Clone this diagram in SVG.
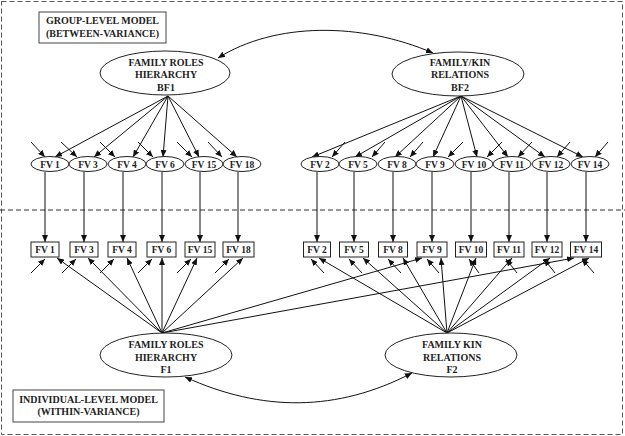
<svg xmlns="http://www.w3.org/2000/svg" width="625" height="436" viewBox="0 0 625 436">
<style>
text{font-family:"Liberation Serif","DejaVu Serif",serif;font-weight:bold;fill:#222;text-anchor:middle}
.big{font-size:10px}
.sm{font-size:9.5px}
.node{fill:#fff;stroke:#222;stroke-width:1}
.lbl{fill:#fff;stroke:#444;stroke-width:1}
.c line,.c path{stroke:#111;stroke-width:1;fill:none;marker-end:url(#ah)}
.c path.both{marker-start:url(#ah)}
</style>
<defs>
<marker id="ah" markerUnits="userSpaceOnUse" markerWidth="8" markerHeight="6" refX="7" refY="3" orient="auto-start-reverse">
<path d="M0,0 L7,3 L0,6 z" fill="#111"/>
</marker>
</defs>
<rect x="1.5" y="1.5" width="621" height="433" fill="none" stroke="#555" stroke-dasharray="5,3"/>
<line x1="0" y1="210" x2="625" y2="210" stroke="#333" stroke-dasharray="5,3"/>

<g id="label-group"><rect class="lbl" x="39" y="12" width="127" height="31"/><text class="big" x="102.5" y="24">GROUP-LEVEL MODEL</text><text class="big" x="102.5" y="36.5">(BETWEEN-VARIANCE)</text></g>
<g id="label-individual"><rect class="lbl" x="13" y="390" width="151" height="32"/><text class="big" x="88.5" y="403">INDIVIDUAL-LEVEL MODEL</text><text class="big" x="88.5" y="415">(WITHIN-VARIANCE)</text></g>

<g class="c" id="connectors">
<path class="both" d="M218,58 C275,22 361,22 433,53"/>
<path class="both" d="M185,377 C262,412 337,412 412,373"/>
<!-- BF1 loadings -->
<line x1="168" y1="96" x2="55" y2="157"/>
<line x1="168" y1="96" x2="94" y2="157"/>
<line x1="168" y1="96" x2="133" y2="157"/>
<line x1="168" y1="96" x2="163" y2="157"/>
<line x1="168" y1="96" x2="199" y2="157"/>
<line x1="168" y1="96" x2="237" y2="157"/>
<!-- BF1 errors -->
<line x1="31" y1="142" x2="45" y2="157"/>
<line x1="61" y1="142" x2="77" y2="157"/>
<line x1="100" y1="142" x2="115" y2="157"/>
<line x1="138" y1="142" x2="153" y2="157"/>
<line x1="177" y1="142" x2="192" y2="157"/>
<line x1="208" y1="142" x2="222" y2="157"/>
<!-- BF2 loadings -->
<line x1="461" y1="96" x2="312" y2="157"/>
<line x1="461" y1="96" x2="355" y2="157"/>
<line x1="461" y1="96" x2="395" y2="157"/>
<line x1="461" y1="96" x2="433" y2="157"/>
<line x1="461" y1="96" x2="477" y2="157"/>
<line x1="461" y1="96" x2="508" y2="157"/>
<line x1="461" y1="96" x2="545" y2="157"/>
<line x1="461" y1="96" x2="583" y2="157"/>
<!-- BF2 errors -->
<line x1="345" y1="142" x2="332" y2="157"/>
<line x1="385" y1="142" x2="372" y2="157"/>
<line x1="423" y1="142" x2="410" y2="157"/>
<line x1="463" y1="142" x2="448" y2="157"/>
<line x1="502" y1="142" x2="487" y2="157"/>
<line x1="532" y1="142" x2="518" y2="157"/>
<line x1="570" y1="142" x2="557" y2="157"/>
<line x1="608" y1="142" x2="595" y2="157"/>
<!-- verticals -->
<line x1="45" y1="172" x2="45" y2="242"/>
<line x1="84" y1="172" x2="84" y2="242"/>
<line x1="123" y1="172" x2="123" y2="242"/>
<line x1="162" y1="172" x2="162" y2="242"/>
<line x1="200" y1="172" x2="200" y2="242"/>
<line x1="238" y1="172" x2="238" y2="242"/>
<line x1="317" y1="172" x2="317" y2="242"/>
<line x1="354" y1="172" x2="354" y2="242"/>
<line x1="393" y1="172" x2="393" y2="242"/>
<line x1="432" y1="172" x2="432" y2="242"/>
<line x1="471" y1="172" x2="471" y2="242"/>
<line x1="509" y1="172" x2="509" y2="242"/>
<line x1="547" y1="172" x2="547" y2="242"/>
<line x1="586" y1="172" x2="586" y2="242"/>
<!-- F1 loadings -->
<line x1="162" y1="333" x2="57" y2="258"/>
<line x1="162" y1="333" x2="88" y2="258"/>
<line x1="162" y1="333" x2="127" y2="258"/>
<line x1="162" y1="333" x2="162" y2="258"/>
<line x1="162" y1="333" x2="197" y2="258"/>
<line x1="162" y1="333" x2="243" y2="258"/>
<line x1="162" y1="333" x2="422" y2="258"/>
<line x1="162" y1="333" x2="574" y2="258"/>
<!-- F1 errors -->
<line x1="31" y1="273" x2="45" y2="259"/>
<line x1="62" y1="273" x2="76" y2="259"/>
<line x1="100" y1="273" x2="114" y2="259"/>
<line x1="138" y1="273" x2="152" y2="259"/>
<line x1="177" y1="273" x2="191" y2="259"/>
<line x1="215" y1="273" x2="229" y2="259"/>
<!-- F2 loadings -->
<line x1="447" y1="333" x2="319" y2="258"/>
<line x1="447" y1="333" x2="363" y2="258"/>
<line x1="447" y1="333" x2="403" y2="258"/>
<line x1="447" y1="333" x2="441" y2="258"/>
<line x1="447" y1="333" x2="476" y2="258"/>
<line x1="447" y1="333" x2="512" y2="258"/>
<line x1="447" y1="333" x2="550" y2="258"/>
<line x1="447" y1="333" x2="589" y2="258"/>
<!-- F2 errors -->
<line x1="324" y1="273" x2="311" y2="259"/>
<line x1="362" y1="273" x2="349" y2="259"/>
<line x1="401" y1="273" x2="388" y2="259"/>
<line x1="439" y1="273" x2="427" y2="259"/>
<line x1="479" y1="273" x2="469" y2="259"/>
<line x1="517" y1="273" x2="506" y2="259"/>
<line x1="555" y1="273" x2="544" y2="259"/>
<line x1="594" y1="273" x2="582" y2="259"/>
</g>

<g id="BF1"><ellipse class="node" cx="165" cy="73" rx="65" ry="22"/><text class="big" x="166" y="66">FAMILY ROLES</text><text class="big" x="166" y="78">HIERARCHY</text><text class="big" x="166" y="90.5">BF1</text></g>
<g id="BF2"><ellipse class="node" cx="458" cy="74" rx="66" ry="22"/><text class="big" x="460" y="65.5">FAMILY/KIN</text><text class="big" x="460" y="78">RELATIONS</text><text class="big" x="460" y="90.5">BF2</text></g>
<g id="F1"><ellipse class="node" cx="166" cy="355" rx="66" ry="22"/><text class="big" x="166" y="348">FAMILY ROLES</text><text class="big" x="166" y="361">HIERARCHY</text><text class="big" x="166" y="373">F1</text></g>
<g id="F2"><ellipse class="node" cx="451" cy="355" rx="66" ry="22"/><text class="big" x="452" y="348">FAMILY KIN</text><text class="big" x="452" y="361">RELATIONS</text><text class="big" x="452" y="373">F2</text></g>

<g id="bFV1"><ellipse class="node" cx="50" cy="164" rx="19" ry="7.5"/><text class="sm" x="50" y="167.5">FV 1</text></g>
<g id="bFV3"><ellipse class="node" cx="88" cy="164" rx="19" ry="7.5"/><text class="sm" x="88" y="167.5">FV 3</text></g>
<g id="bFV4"><ellipse class="node" cx="127" cy="164" rx="19" ry="7.5"/><text class="sm" x="127" y="167.5">FV 4</text></g>
<g id="bFV6"><ellipse class="node" cx="165" cy="164" rx="19" ry="7.5"/><text class="sm" x="165" y="167.5">FV 6</text></g>
<g id="bFV15"><ellipse class="node" cx="204" cy="164" rx="19" ry="7.5"/><text class="sm" x="204" y="167.5">FV 15</text></g>
<g id="bFV18"><ellipse class="node" cx="242" cy="164" rx="19" ry="7.5"/><text class="sm" x="242" y="167.5">FV 18</text></g>
<g id="bFV2"><ellipse class="node" cx="320" cy="164" rx="19" ry="7.5"/><text class="sm" x="320" y="167.5">FV 2</text></g>
<g id="bFV5"><ellipse class="node" cx="358" cy="164" rx="19" ry="7.5"/><text class="sm" x="358" y="167.5">FV 5</text></g>
<g id="bFV8"><ellipse class="node" cx="397" cy="164" rx="19" ry="7.5"/><text class="sm" x="397" y="167.5">FV 8</text></g>
<g id="bFV9"><ellipse class="node" cx="435" cy="164" rx="19" ry="7.5"/><text class="sm" x="435" y="167.5">FV 9</text></g>
<g id="bFV10"><ellipse class="node" cx="474" cy="164" rx="19" ry="7.5"/><text class="sm" x="474" y="167.5">FV 10</text></g>
<g id="bFV11"><ellipse class="node" cx="512" cy="164" rx="19" ry="7.5"/><text class="sm" x="512" y="167.5">FV 11</text></g>
<g id="bFV12"><ellipse class="node" cx="551" cy="164" rx="19" ry="7.5"/><text class="sm" x="551" y="167.5">FV 12</text></g>
<g id="bFV14"><ellipse class="node" cx="590" cy="164" rx="19" ry="7.5"/><text class="sm" x="590" y="167.5">FV 14</text></g>

<g id="wFV1"><rect class="node" x="31" y="242" width="28" height="15"/><text class="sm" x="45" y="253">FV 1</text></g>
<g id="wFV3"><rect class="node" x="70" y="242" width="28" height="15"/><text class="sm" x="84" y="253">FV 3</text></g>
<g id="wFV4"><rect class="node" x="108" y="242" width="28" height="15"/><text class="sm" x="122" y="253">FV 4</text></g>
<g id="wFV6"><rect class="node" x="147" y="242" width="29" height="15"/><text class="sm" x="161.5" y="253">FV 6</text></g>
<g id="wFV15"><rect class="node" x="185" y="242" width="30" height="15"/><text class="sm" x="200" y="253">FV 15</text></g>
<g id="wFV18"><rect class="node" x="223" y="242" width="31" height="15"/><text class="sm" x="238.5" y="253">FV 18</text></g>
<g id="wFV2"><rect class="node" x="303.5" y="242" width="27" height="15"/><text class="sm" x="317" y="253">FV 2</text></g>
<g id="wFV5"><rect class="node" x="339.5" y="242" width="29" height="15"/><text class="sm" x="354" y="253">FV 5</text></g>
<g id="wFV8"><rect class="node" x="378.5" y="242" width="29" height="15"/><text class="sm" x="393" y="253">FV 8</text></g>
<g id="wFV9"><rect class="node" x="417" y="242" width="30" height="15"/><text class="sm" x="432" y="253">FV 9</text></g>
<g id="wFV10"><rect class="node" x="455.5" y="242" width="31" height="15"/><text class="sm" x="471" y="253">FV 10</text></g>
<g id="wFV11"><rect class="node" x="494" y="242" width="30" height="15"/><text class="sm" x="509" y="253">FV 11</text></g>
<g id="wFV12"><rect class="node" x="532" y="242" width="30" height="15"/><text class="sm" x="547" y="253">FV 12</text></g>
<g id="wFV14"><rect class="node" x="570.5" y="242" width="31" height="15"/><text class="sm" x="586" y="253">FV 14</text></g>
</svg>
